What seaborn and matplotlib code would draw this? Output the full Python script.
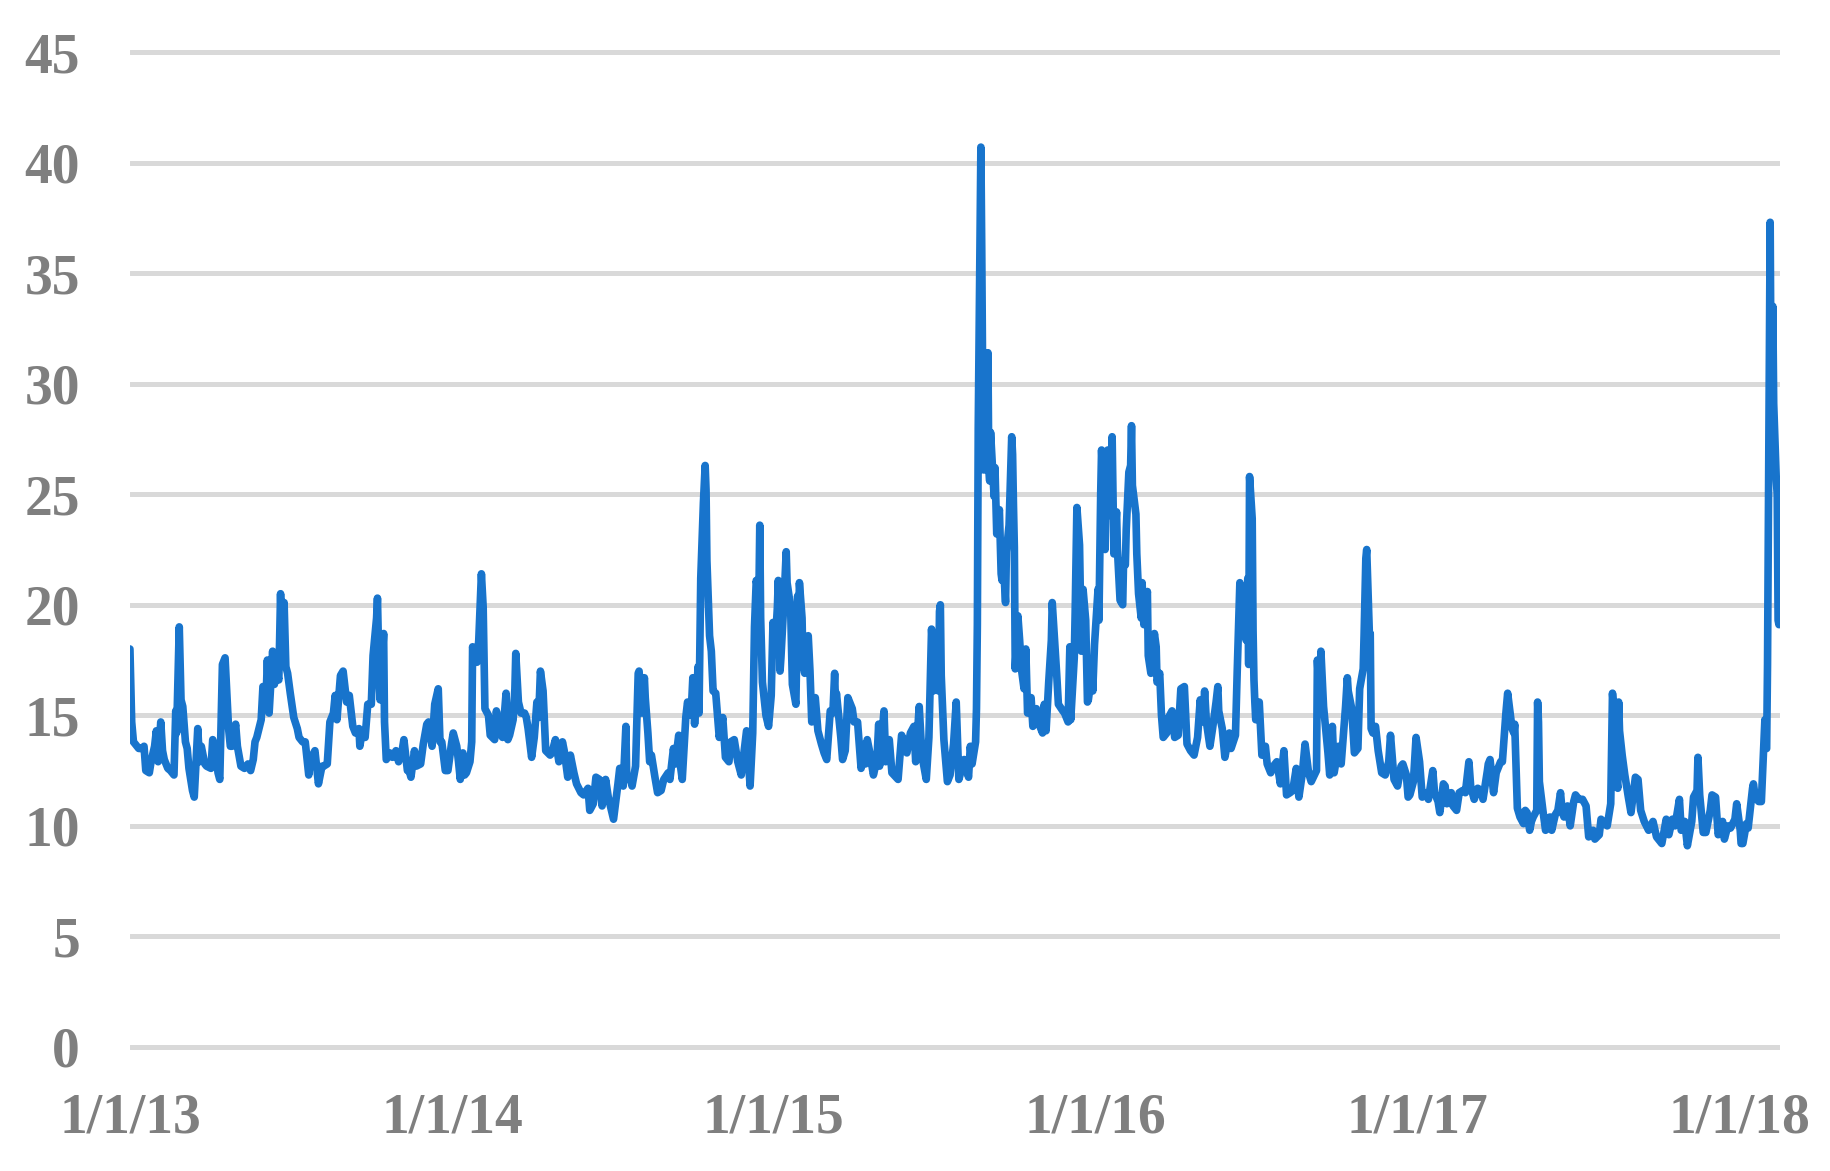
import pandas as pd
import matplotlib
matplotlib.use('Agg')
import matplotlib.pyplot as plt
import seaborn as sns

dates_2013 = ['2012-12-31', '2013-01-02', '2013-01-04', '2013-01-08', '2013-01-10', '2013-01-14', '2013-01-16', '2013-01-18',
              '2013-01-22', '2013-01-24', '2013-01-28', '2013-01-30', '2013-02-01', '2013-02-04', '2013-02-06', '2013-02-08',
              '2013-02-12', '2013-02-15', '2013-02-19', '2013-02-21', '2013-02-22', '2013-02-25', '2013-02-27', '2013-03-01',
              '2013-03-04', '2013-03-06', '2013-03-08', '2013-03-12', '2013-03-14', '2013-03-18', '2013-03-20', '2013-03-22',
              '2013-03-26', '2013-03-28', '2013-04-02', '2013-04-04', '2013-04-08', '2013-04-10', '2013-04-12', '2013-04-15',
              '2013-04-18', '2013-04-22', '2013-04-24', '2013-04-26', '2013-04-30', '2013-05-02', '2013-05-06', '2013-05-10',
              '2013-05-14', '2013-05-17', '2013-05-20', '2013-05-22', '2013-05-24', '2013-05-29', '2013-05-31', '2013-06-04',
              '2013-06-05', '2013-06-07', '2013-06-11', '2013-06-13', '2013-06-14', '2013-06-18', '2013-06-20', '2013-06-21',
              '2013-06-24', '2013-06-26', '2013-06-28', '2013-07-01', '2013-07-05', '2013-07-09', '2013-07-11', '2013-07-15',
              '2013-07-18', '2013-07-22', '2013-07-24', '2013-07-29', '2013-08-02', '2013-08-06', '2013-08-08', '2013-08-12',
              '2013-08-15', '2013-08-19', '2013-08-21', '2013-08-23', '2013-08-27', '2013-08-30', '2013-09-03', '2013-09-06',
              '2013-09-10', '2013-09-13', '2013-09-17', '2013-09-18', '2013-09-20', '2013-09-24', '2013-09-27', '2013-10-01',
              '2013-10-03', '2013-10-07', '2013-10-08', '2013-10-10', '2013-10-11', '2013-10-15', '2013-10-16', '2013-10-18',
              '2013-10-22', '2013-10-25', '2013-10-29', '2013-11-01', '2013-11-05', '2013-11-07', '2013-11-11', '2013-11-13',
              '2013-11-15', '2013-11-19', '2013-11-21', '2013-11-26', '2013-11-29', '2013-12-03', '2013-12-05', '2013-12-09',
              '2013-12-12', '2013-12-16', '2013-12-18', '2013-12-20', '2013-12-24', '2013-12-27', '2013-12-31']
vix_2013 = [18.0, 14.7, 13.8, 13.6, 13.5, 13.5, 13.6, 12.5,
            12.4, 12.9, 13.6, 14.3, 12.9, 14.7, 13.4, 13.0,
            12.6, 12.5, 12.3, 15.2, 14.2, 19.0, 15.7, 15.4,
            13.8, 13.5, 12.6, 11.6, 11.3, 14.4, 12.9, 13.6,
            12.8, 12.7, 12.6, 13.9, 13.2, 12.4, 12.1, 17.3,
            17.6, 14.4, 13.6, 13.6, 14.6, 13.6, 12.7, 12.6,
            12.8, 12.5, 13.0, 13.8, 14.0, 14.8, 16.3, 16.3,
            17.5, 15.1, 17.9, 16.4, 17.2, 16.6, 20.5, 18.9,
            20.1, 17.2, 16.9, 16.0, 14.9, 14.4, 14.0, 13.8,
            13.8, 12.3, 13.0, 13.4, 11.9, 12.7, 12.7, 12.8,
            14.7, 15.1, 15.9, 14.8, 16.8, 17.0, 15.6, 15.9,
            14.5, 14.2, 14.4, 13.6, 14.1, 14.0, 15.5, 15.5,
            17.7, 19.4, 20.3, 16.5, 15.7, 18.7, 14.7, 13.0,
            13.3, 13.1, 13.4, 12.9, 13.4, 13.9, 12.5, 12.5,
            12.2, 13.4, 12.7, 12.8, 13.7, 14.6, 14.7, 13.6,
            15.5, 16.2, 13.8, 13.8, 12.5, 12.5, 13.7]

dates_2014 = ['2014-01-02', '2014-01-06', '2014-01-08', '2014-01-10', '2014-01-13', '2014-01-15', '2014-01-17', '2014-01-21',
              '2014-01-23', '2014-01-24', '2014-01-27', '2014-01-29', '2014-01-31', '2014-02-03', '2014-02-05', '2014-02-07',
              '2014-02-11', '2014-02-13', '2014-02-18', '2014-02-20', '2014-02-24', '2014-02-27', '2014-03-03', '2014-03-05',
              '2014-03-07', '2014-03-11', '2014-03-13', '2014-03-14', '2014-03-17', '2014-03-20', '2014-03-24', '2014-03-26',
              '2014-03-28', '2014-04-01', '2014-04-04', '2014-04-07', '2014-04-09', '2014-04-11', '2014-04-14', '2014-04-17',
              '2014-04-22', '2014-04-24', '2014-04-28', '2014-04-30', '2014-05-02', '2014-05-06', '2014-05-08', '2014-05-12',
              '2014-05-15', '2014-05-19', '2014-05-22', '2014-05-27', '2014-05-30', '2014-06-04', '2014-06-06', '2014-06-10',
              '2014-06-13', '2014-06-17', '2014-06-20', '2014-06-24', '2014-06-27', '2014-07-03', '2014-07-08', '2014-07-10',
              '2014-07-14', '2014-07-17', '2014-07-18', '2014-07-22', '2014-07-24', '2014-07-28', '2014-07-31', '2014-08-01',
              '2014-08-04', '2014-08-07', '2014-08-08', '2014-08-11', '2014-08-13', '2014-08-15', '2014-08-19', '2014-08-22',
              '2014-08-26', '2014-08-29', '2014-09-03', '2014-09-05', '2014-09-09', '2014-09-11', '2014-09-15', '2014-09-17',
              '2014-09-19', '2014-09-23', '2014-09-25', '2014-09-29', '2014-10-01', '2014-10-03', '2014-10-07', '2014-10-08',
              '2014-10-10', '2014-10-13', '2014-10-15', '2014-10-16', '2014-10-17', '2014-10-20', '2014-10-22', '2014-10-24',
              '2014-10-27', '2014-10-29', '2014-10-31', '2014-11-04', '2014-11-07', '2014-11-11', '2014-11-13', '2014-11-17',
              '2014-11-21', '2014-11-25', '2014-11-28', '2014-12-01', '2014-12-04', '2014-12-05', '2014-12-08', '2014-12-10',
              '2014-12-12', '2014-12-15', '2014-12-16', '2014-12-17', '2014-12-19', '2014-12-23', '2014-12-26', '2014-12-29',
              '2014-12-31']
vix_2014 = [14.2, 13.6, 12.9, 12.1, 13.3, 12.3, 12.4, 12.9,
            13.8, 18.1, 17.4, 17.4, 18.4, 21.4, 19.9, 15.3,
            15.0, 14.1, 13.9, 15.2, 14.2, 14.0, 16.0, 13.9,
            14.1, 14.8, 16.2, 17.8, 15.6, 15.1, 15.1, 14.9,
            14.4, 13.1, 14.0, 15.6, 14.9, 17.0, 16.1, 13.4,
            13.2, 13.3, 13.9, 13.4, 12.9, 13.8, 13.4, 12.2,
            13.2, 12.4, 11.9, 11.5, 11.4, 11.7, 10.7, 11.0,
            12.2, 12.1, 10.9, 12.1, 11.3, 10.3, 11.9, 12.6,
            11.8, 14.5, 12.1, 12.2, 11.8, 12.7, 16.9, 17.0,
            15.1, 16.7, 15.8, 14.2, 12.9, 13.2, 12.2, 11.5,
            11.6, 12.1, 12.4, 12.1, 13.5, 12.8, 14.1, 12.7,
            12.1, 14.9, 15.6, 15.0, 16.7, 14.6, 17.2, 15.1,
            21.2, 24.6, 26.3, 25.2, 22.0, 18.6, 17.9, 16.1,
            16.0, 15.0, 14.0, 14.9, 13.1, 12.9, 13.8, 13.9,
            12.9, 12.3, 13.3, 14.3, 12.4, 11.8, 14.2, 19.0,
            21.1, 20.4, 23.6, 19.4, 16.5, 15.0, 14.5, 15.9,
            19.2]

dates_2015 = ['2015-01-02', '2015-01-05', '2015-01-06', '2015-01-08', '2015-01-09', '2015-01-13', '2015-01-15', '2015-01-16',
              '2015-01-20', '2015-01-22', '2015-01-26', '2015-01-28', '2015-01-29', '2015-01-30', '2015-02-02', '2015-02-03',
              '2015-02-05', '2015-02-09', '2015-02-11', '2015-02-13', '2015-02-17', '2015-02-20', '2015-02-24', '2015-02-27',
              '2015-03-02', '2015-03-06', '2015-03-09', '2015-03-11', '2015-03-12', '2015-03-13', '2015-03-18', '2015-03-20',
              '2015-03-23', '2015-03-26', '2015-03-31', '2015-04-02', '2015-04-06', '2015-04-10', '2015-04-14', '2015-04-15',
              '2015-04-17', '2015-04-20', '2015-04-24', '2015-04-28', '2015-04-30', '2015-05-01', '2015-05-06', '2015-05-08',
              '2015-05-12', '2015-05-15', '2015-05-22', '2015-05-26', '2015-05-29', '2015-06-01', '2015-06-05', '2015-06-09',
              '2015-06-11', '2015-06-15', '2015-06-18', '2015-06-23', '2015-06-26', '2015-06-29', '2015-06-30', '2015-07-01',
              '2015-07-06', '2015-07-07', '2015-07-08', '2015-07-09', '2015-07-10', '2015-07-13', '2015-07-17', '2015-07-20',
              '2015-07-24', '2015-07-27', '2015-07-30', '2015-08-05', '2015-08-10', '2015-08-12', '2015-08-14', '2015-08-18',
              '2015-08-19', '2015-08-20', '2015-08-21', '2015-08-24', '2015-08-25', '2015-08-26', '2015-08-27', '2015-08-28',
              '2015-08-31', '2015-09-01', '2015-09-02', '2015-09-03', '2015-09-04', '2015-09-08', '2015-09-09', '2015-09-11',
              '2015-09-14', '2015-09-16', '2015-09-17', '2015-09-18', '2015-09-21', '2015-09-22', '2015-09-25', '2015-09-28',
              '2015-09-29', '2015-09-30', '2015-10-01', '2015-10-02', '2015-10-05', '2015-10-07', '2015-10-09', '2015-10-12',
              '2015-10-14', '2015-10-16', '2015-10-20', '2015-10-22', '2015-10-26', '2015-10-29', '2015-11-02', '2015-11-04',
              '2015-11-06', '2015-11-09', '2015-11-12', '2015-11-13', '2015-11-16', '2015-11-18', '2015-11-20', '2015-11-25',
              '2015-11-27', '2015-12-01', '2015-12-03', '2015-12-04', '2015-12-08', '2015-12-09', '2015-12-11', '2015-12-14',
              '2015-12-16', '2015-12-18', '2015-12-21', '2015-12-23', '2015-12-24', '2015-12-28', '2015-12-29', '2015-12-31']
vix_2015 = [17.8, 19.9, 21.1, 17.0, 17.6, 20.6, 22.4, 21.0,
            19.9, 16.4, 15.5, 20.4, 18.8, 21.0, 19.4, 17.3,
            16.9, 18.6, 17.0, 14.7, 15.8, 14.3, 13.7, 13.3,
            13.0, 15.2, 15.1, 16.9, 15.4, 16.0, 14.0, 13.0,
            13.4, 15.8, 15.3, 14.7, 14.7, 12.6, 13.7, 12.8,
            13.9, 13.3, 12.3, 13.0, 14.6, 12.7, 15.2, 12.9,
            13.9, 12.4, 12.1, 14.1, 13.8, 13.3, 14.2, 14.5,
            12.9, 15.4, 13.2, 12.1, 14.0, 18.9, 18.2, 16.1,
            17.0, 16.1, 19.7, 20.0, 16.8, 13.9, 12.0, 12.3,
            13.7, 15.6, 12.1, 13.0, 12.2, 13.6, 12.8, 13.8,
            15.3, 19.1, 28.0, 40.7, 36.0, 30.3, 26.1, 26.1,
            28.4, 31.4, 26.1, 25.6, 27.8, 24.9, 26.2, 23.2,
            24.3, 21.4, 21.1, 22.3, 20.1, 22.4, 23.6, 27.6,
            26.8, 24.5, 22.6, 17.1, 19.5, 18.4, 17.1, 16.2,
            18.0, 15.1, 15.8, 14.5, 15.3, 14.6, 14.2, 15.5,
            14.3, 16.5, 18.4, 20.1, 18.2, 16.9, 15.5, 15.2,
            15.1, 14.7, 18.1, 14.8, 17.6, 19.6, 24.4, 22.7,
            17.9, 20.7, 19.3, 15.6, 15.7, 16.9, 16.1, 18.2]

dates_2016 = ['2016-01-04', '2016-01-05', '2016-01-07', '2016-01-08', '2016-01-11', '2016-01-12', '2016-01-13', '2016-01-14',
              '2016-01-15', '2016-01-19', '2016-01-20', '2016-01-22', '2016-01-25', '2016-01-26', '2016-01-29', '2016-02-01',
              '2016-02-02', '2016-02-04', '2016-02-05', '2016-02-08', '2016-02-10', '2016-02-11', '2016-02-12', '2016-02-16',
              '2016-02-17', '2016-02-19', '2016-02-22', '2016-02-23', '2016-02-25', '2016-02-29', '2016-03-01', '2016-03-04',
              '2016-03-08', '2016-03-10', '2016-03-11', '2016-03-14', '2016-03-16', '2016-03-18', '2016-03-22', '2016-03-24',
              '2016-03-28', '2016-03-31', '2016-04-04', '2016-04-07', '2016-04-11', '2016-04-14', '2016-04-18', '2016-04-22',
              '2016-04-26', '2016-04-29', '2016-05-02', '2016-05-04', '2016-05-06', '2016-05-10', '2016-05-13', '2016-05-17',
              '2016-05-19', '2016-05-20', '2016-05-24', '2016-05-27', '2016-06-01', '2016-06-03', '2016-06-08', '2016-06-10',
              '2016-06-13', '2016-06-15', '2016-06-17', '2016-06-20', '2016-06-22', '2016-06-23', '2016-06-24', '2016-06-27',
              '2016-06-28', '2016-06-29', '2016-06-30', '2016-07-01', '2016-07-05', '2016-07-08', '2016-07-12', '2016-07-14',
              '2016-07-18', '2016-07-21', '2016-07-25', '2016-07-29', '2016-08-02', '2016-08-05', '2016-08-09', '2016-08-12',
              '2016-08-16', '2016-08-19', '2016-08-23', '2016-08-26', '2016-08-30', '2016-09-02', '2016-09-08', '2016-09-09',
              '2016-09-12', '2016-09-13', '2016-09-15', '2016-09-16', '2016-09-21', '2016-09-23', '2016-09-26', '2016-09-28',
              '2016-10-03', '2016-10-06', '2016-10-11', '2016-10-13', '2016-10-14', '2016-10-18', '2016-10-21', '2016-10-25',
              '2016-10-27', '2016-10-31', '2016-11-01', '2016-11-03', '2016-11-04', '2016-11-07', '2016-11-08', '2016-11-09',
              '2016-11-11', '2016-11-14', '2016-11-17', '2016-11-21', '2016-11-25', '2016-11-29', '2016-12-01', '2016-12-05',
              '2016-12-09', '2016-12-13', '2016-12-15', '2016-12-19', '2016-12-21', '2016-12-23', '2016-12-27', '2016-12-30']
vix_2016 = [20.7, 19.3, 25.0, 27.0, 24.3, 22.5, 25.2, 24.0,
            27.0, 26.1, 27.6, 22.3, 24.2, 22.5, 20.2, 20.0,
            22.0, 21.8, 23.4, 26.0, 26.3, 28.1, 25.4, 24.1,
            22.3, 20.5, 19.4, 21.0, 19.1, 20.6, 17.7, 16.9,
            18.7, 18.1, 16.5, 16.9, 15.0, 14.0, 14.2, 14.9,
            15.2, 14.0, 14.1, 16.2, 16.3, 13.7, 13.4, 13.2,
            14.0, 15.7, 14.7, 16.1, 14.7, 13.6, 14.4, 15.6,
            16.3, 15.2, 14.4, 13.1, 14.2, 13.5, 14.1, 17.0,
            21.0, 20.1, 19.4, 18.4, 21.2, 17.3, 25.8, 23.9,
            18.8, 16.6, 15.6, 14.8, 15.6, 13.2, 13.6, 12.8,
            12.4, 12.7, 12.9, 11.9, 13.4, 11.4, 11.5, 11.6,
            12.6, 11.3, 12.4, 13.7, 12.4, 12.0, 12.5, 17.5,
            15.2, 17.9, 16.3, 15.4, 13.3, 12.3, 14.5, 12.4,
            13.6, 12.8, 15.4, 16.7, 16.1, 15.3, 13.3, 13.5,
            16.2, 17.1, 18.6, 22.1, 22.5, 18.7, 18.7, 14.4,
            14.2, 14.5, 13.4, 12.4, 12.3, 12.9, 14.1, 12.1,
            11.8, 12.7, 12.8, 12.3, 11.3, 11.4, 12.0, 14.0]

dates_2017 = ['2017-01-03', '2017-01-06', '2017-01-10', '2017-01-13', '2017-01-18', '2017-01-20', '2017-01-24', '2017-01-26',
              '2017-01-30', '2017-02-01', '2017-02-03', '2017-02-08', '2017-02-10', '2017-02-14', '2017-02-17', '2017-02-21',
              '2017-02-24', '2017-02-28', '2017-03-02', '2017-03-06', '2017-03-10', '2017-03-14', '2017-03-16', '2017-03-21',
              '2017-03-22', '2017-03-24', '2017-03-28', '2017-03-31', '2017-04-05', '2017-04-07', '2017-04-11', '2017-04-13',
              '2017-04-18', '2017-04-20', '2017-04-21', '2017-04-24', '2017-04-27', '2017-05-01', '2017-05-03', '2017-05-05',
              '2017-05-08', '2017-05-10', '2017-05-12', '2017-05-16', '2017-05-17', '2017-05-18', '2017-05-19', '2017-05-23',
              '2017-05-26', '2017-05-31', '2017-06-02', '2017-06-06', '2017-06-09', '2017-06-12', '2017-06-14', '2017-06-16',
              '2017-06-20', '2017-06-23', '2017-06-27', '2017-06-29', '2017-07-03', '2017-07-07', '2017-07-11', '2017-07-14',
              '2017-07-19', '2017-07-21', '2017-07-26', '2017-07-28', '2017-08-01', '2017-08-04', '2017-08-08', '2017-08-10',
              '2017-08-11', '2017-08-14', '2017-08-16', '2017-08-17', '2017-08-18', '2017-08-21', '2017-08-24', '2017-08-28',
              '2017-08-31', '2017-09-05', '2017-09-08', '2017-09-11', '2017-09-15', '2017-09-20', '2017-09-25', '2017-09-29',
              '2017-10-05', '2017-10-10', '2017-10-13', '2017-10-17', '2017-10-20', '2017-10-25', '2017-10-27', '2017-10-31',
              '2017-11-03', '2017-11-08', '2017-11-10', '2017-11-14', '2017-11-15', '2017-11-17', '2017-11-21', '2017-11-24',
              '2017-11-29', '2017-12-01', '2017-12-05', '2017-12-08', '2017-12-13', '2017-12-15', '2017-12-19', '2017-12-22',
              '2017-12-27', '2017-12-29']
vix_2017 = [12.9, 11.3, 11.5, 11.2, 12.5, 11.5, 11.1, 10.6,
            11.9, 11.8, 11.0, 11.5, 10.9, 10.7, 11.5, 11.6,
            11.5, 12.9, 11.8, 11.2, 11.7, 11.6, 11.2, 12.5,
            12.8, 13.0, 11.5, 12.4, 12.9, 12.9, 15.1, 16.0,
            14.4, 14.2, 14.6, 10.8, 10.4, 10.1, 10.7, 10.6,
            9.8, 10.2, 10.4, 10.7, 15.6, 14.7, 12.0, 10.7,
            9.8, 10.4, 9.8, 10.5, 10.7, 11.5, 10.6, 10.4,
            10.9, 10.0, 11.1, 11.4, 11.2, 11.2, 10.9, 9.5,
            9.8, 9.4, 9.6, 10.3, 10.1, 10.0, 11.0, 16.0,
            15.5, 12.3, 11.7, 15.6, 14.3, 13.2, 12.3, 11.3,
            10.6, 12.2, 12.1, 10.7, 10.2, 9.8, 10.2, 9.5,
            9.2, 10.3, 9.6, 10.3, 10.0, 11.2, 9.8, 10.2,
            9.1, 10.2, 11.3, 11.6, 13.1, 11.4, 9.7, 9.7,
            10.7, 11.4, 11.3, 9.6, 10.2, 9.4, 10.0, 9.9,
            10.3, 11.0]

dates_2018 = ['2018-01-02', '2018-01-03', '2018-01-05', '2018-01-09', '2018-01-11', '2018-01-16', '2018-01-17', '2018-01-19',
              '2018-01-23', '2018-01-26', '2018-01-29', '2018-01-30', '2018-01-31', '2018-02-01', '2018-02-02', '2018-02-05',
              '2018-02-06', '2018-02-07', '2018-02-08', '2018-02-09', '2018-02-12', '2018-02-13', '2018-02-14', '2018-02-15',
              '2018-02-16']
vix_2018 = [9.8, 9.2, 9.2, 10.1, 9.9, 11.7, 11.9, 11.3,
            11.1, 11.1, 13.8, 14.8, 13.5, 13.5, 17.3, 37.3,
            30.0, 27.7, 33.5, 29.1, 25.6, 25.0, 19.3, 19.1,
            19.5]

tick_dates = ['2013-01-01', '2014-01-01', '2015-01-01', '2016-01-01', '2017-01-01', '2018-01-01']
tick_labels = ['1/1/13', '1/1/14', '1/1/15', '1/1/16', '1/1/17', '1/1/18']
y_ticks = [0, 5, 10, 15, 20, 25, 30, 35, 40, 45]

df = pd.DataFrame({
    'date': pd.to_datetime(dates_2013 + dates_2014 + dates_2015 + dates_2016 + dates_2017 + dates_2018),
    'vix': vix_2013 + vix_2014 + vix_2015 + vix_2016 + vix_2017 + vix_2018,
})

sns.set_style('white')
plt.rcParams['font.family'] = ['Liberation Serif', 'DejaVu Serif']

fig = plt.figure(figsize=(18.3, 11.71), dpi=100)
ax = fig.add_axes([0.0710, 0.0965, 0.9016, 0.8685])

sns.lineplot(data=df, x='date', y='vix', ax=ax, color='#1874CC', linewidth=5.5,
             solid_joinstyle='round', solid_capstyle='round', zorder=3)

ax.set_xlim(df['date'].iloc[0], df['date'].iloc[-1])
ax.set_ylim(-0.5, 45.5)
ax.set_yticks(y_ticks)
ax.set_xticks(pd.to_datetime(tick_dates))
ax.set_xticklabels(tick_labels)

ax.yaxis.grid(True, color='#D9D9D9', linewidth=3.6)
ax.xaxis.grid(False)
ax.set_axisbelow(True)
sns.despine(left=True, bottom=True)

ax.tick_params(axis='y', length=0, pad=36, labelsize=40, labelcolor='#7F7F7F')
ax.tick_params(axis='x', length=0, pad=25, labelsize=40, labelcolor='#7F7F7F')
for lbl in ax.get_xticklabels() + ax.get_yticklabels():
    lbl.set_fontweight('bold')

ax.set_xlabel('')
ax.set_ylabel('')

fig.savefig('out.png', dpi=100)
